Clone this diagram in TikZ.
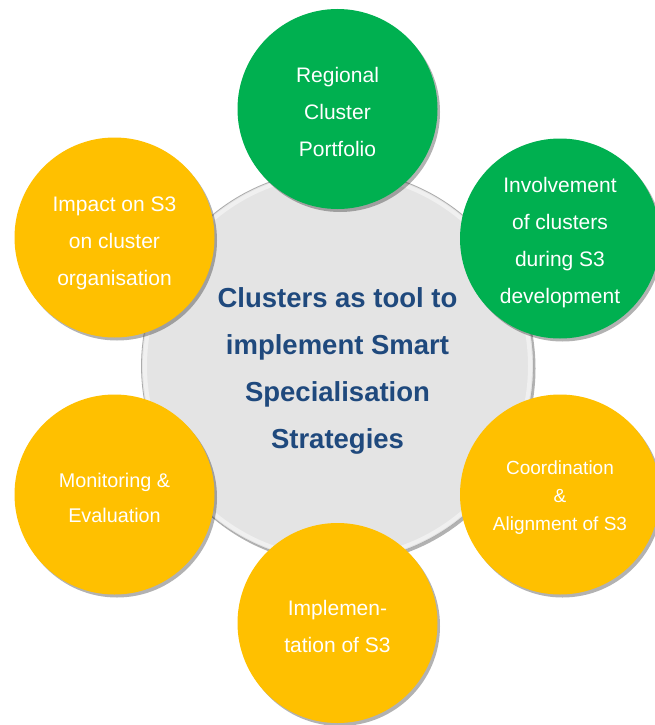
\documentclass[tikz,border=0pt]{standalone}
\usepackage{fontspec}
\setmainfont{Liberation Sans}
\usetikzlibrary{shadows}
\definecolor{cgreen}{HTML}{00B050}
\definecolor{cyellow}{HTML}{FFC000}
\definecolor{cgrey}{HTML}{E4E4E4}
\definecolor{cblue}{HTML}{1F497D}
\begin{document}
\begin{tikzpicture}[x=1pt,y=-1pt,
  sat/.style={circle, minimum size=200pt, inner sep=0pt, text=white, align=center,
    font=\fontsize{21}{37}\selectfont,
    drop shadow={shadow xshift=2.5pt, shadow yshift=-3pt, opacity=0.3, fill=black}},
  satg/.style={sat, fill=cgreen},
  saty/.style={sat, fill=cyellow},
  hub/.style={circle, minimum size=392pt, inner sep=0pt, fill=cgrey, draw=gray!65, line width=0.8pt,
    text=cblue, align=center, font=\bfseries\fontsize{27.5}{47}\selectfont,
    drop shadow={shadow xshift=2pt, shadow yshift=-2.5pt, opacity=0.3, fill=black}}]
\useasboundingbox (0,0) rectangle (655,725);
\clip (0,0) rectangle (655,725);
\fill[white] (0,0) rectangle (655,725);
\node[hub] (hub) at (337.5,366) {\rule{0pt}{30pt}Clusters as tool to\\implement Smart\\Specialisation\\Strategies};
\draw[white, opacity=0.45, line width=4pt] (hub.center) circle (192.5pt);
\node[satg] (top) at (337.5,109) {\rule{0pt}{21.5pt}Regional\\Cluster\\Portfolio};
\node[satg] (rt) at (560,238.5) {\rule{0pt}{23.5pt}Involvement\\of clusters\\during S3\\development};
\node[saty, font=\fontsize{19}{28}\selectfont] (rb) at (560,494.5) {\rule{0pt}{20pt}Coordination\\\&\\Alignment of S3};
\node[saty] (bot) at (337.5,623) {\rule{0pt}{21.5pt}Implemen-\\tation of S3};
\node[saty, font=\fontsize{19.8}{35}\selectfont] (lb) at (114.5,494.5) {\rule{0pt}{20.5pt}Monitoring \&\\Evaluation};
\node[saty] (lt) at (114.5,237.5) {\rule{0pt}{25.5pt}Impact on S3\\on cluster\\organisation};
\end{tikzpicture}
\end{document}
